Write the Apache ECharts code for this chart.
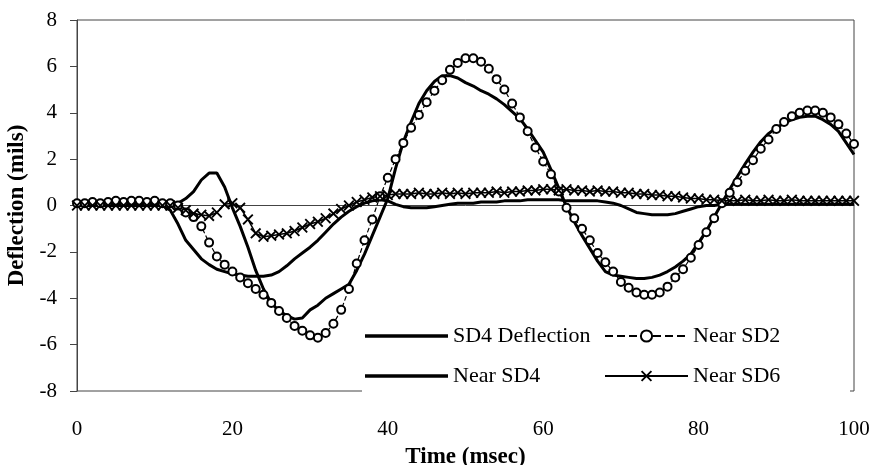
<!DOCTYPE html>
<html>
<head>
<meta charset="utf-8">
<script src="https://cdn.jsdelivr.net/npm/echarts@6/dist/echarts.min.js"></script>
<style>
  html, body { margin: 0; padding: 0; background: #fff; }
  #chart { width: 872px; height: 465px; }
</style>
</head>
<body>
<div id="chart"></div>
<script>
// time in msec, one sample per msec
var times = [];
for (var i = 0; i <= 100; i++) times.push(i);

var sd4Deflection = [
  0.05, 0.0, 0.05, 0.0, 0.05, 0.05, 0.0, 0.05, 0.0, 0.05,
  0.05, 0.05, 0.05, 0.1, 0.3, 0.6, 1.1, 1.4, 1.4, 0.8,
  -0.1, -0.9, -1.8, -2.8, -3.6, -4.2, -4.55, -4.75, -4.9, -4.85,
  -4.5, -4.3, -4.0, -3.8, -3.6, -3.4, -2.8, -2.1, -1.3, -0.5,
  0.3, 1.6, 2.75, 3.6, 4.4, 4.95, 5.35, 5.6, 5.6, 5.5,
  5.3, 5.15, 4.95, 4.8, 4.6, 4.35, 4.05, 3.75, 3.3, 2.8,
  2.3, 1.55, 0.75, -0.05, -0.7, -1.3, -1.85, -2.4, -2.85, -3.0,
  -3.05, -3.1, -3.15, -3.15, -3.1, -3.0, -2.85, -2.65, -2.4, -2.1,
  -1.6, -1.1, -0.5, 0.1, 0.7, 1.25, 1.8, 2.3, 2.75, 3.1,
  3.35, 3.55, 3.7, 3.8, 3.85, 3.85, 3.7, 3.5, 3.2, 2.7,
  2.2
];

var nearSD2 = [
  0.1, 0.1, 0.15, 0.1, 0.15, 0.2, 0.15, 0.2, 0.2, 0.15,
  0.2, 0.1, 0.1, 0.0, -0.3, -0.5, -0.9, -1.6, -2.2, -2.55,
  -2.85, -3.1, -3.35, -3.6, -3.85, -4.2, -4.55, -4.85, -5.2, -5.4,
  -5.6, -5.7, -5.5, -5.1, -4.5, -3.6, -2.5, -1.5, -0.6, 0.4,
  1.2, 2.0, 2.7, 3.35, 3.9, 4.45, 4.95, 5.4, 5.85, 6.15,
  6.35, 6.35, 6.2, 5.9, 5.45, 5.0, 4.4, 3.8, 3.2, 2.5,
  1.9, 1.35, 0.6, -0.1, -0.55, -1.0, -1.5, -2.05, -2.45, -2.85,
  -3.3, -3.55, -3.75, -3.85, -3.85, -3.75, -3.5, -3.1, -2.75, -2.25,
  -1.7, -1.15, -0.55, 0.1, 0.55, 1.0, 1.5, 1.95, 2.45, 2.85,
  3.3, 3.6, 3.85, 4.0, 4.1, 4.1, 4.0, 3.8, 3.5, 3.1,
  2.65
];

var nearSD4 = [
  0.0, 0.0, 0.0, 0.0, 0.0, 0.0, 0.0, 0.0, 0.0, 0.0,
  0.0, 0.0, -0.2, -0.8, -1.5, -1.9, -2.3, -2.55, -2.75, -2.85,
  -2.95, -3.0, -3.05, -3.05, -3.05, -3.0, -2.85, -2.6, -2.3, -2.05,
  -1.8, -1.5, -1.15, -0.8, -0.5, -0.25, -0.05, 0.1, 0.2, 0.25,
  0.2, 0.05, -0.05, -0.1, -0.1, -0.1, -0.05, 0.0, 0.05, 0.1,
  0.1, 0.1, 0.15, 0.15, 0.15, 0.2, 0.2, 0.2, 0.25, 0.25,
  0.25, 0.25, 0.25, 0.2, 0.2, 0.2, 0.2, 0.2, 0.15, 0.1,
  0.0, -0.15, -0.3, -0.35, -0.4, -0.4, -0.4, -0.35, -0.25, -0.15,
  -0.05, 0.0, 0.0, 0.05, 0.05, 0.05, 0.05, 0.05, 0.05, 0.05,
  0.05, 0.05, 0.05, 0.05, 0.05, 0.05, 0.05, 0.05, 0.05, 0.05,
  0.05
];

var nearSD6 = [
  0.0, 0.0, 0.0, 0.0, 0.0, 0.0, 0.0, 0.0, 0.0, 0.0,
  0.0, 0.0, 0.0, -0.1, -0.2, -0.35, -0.4, -0.45, -0.3, 0.05,
  0.1, -0.1, -0.6, -1.2, -1.35, -1.3, -1.25, -1.2, -1.1, -0.95,
  -0.8, -0.7, -0.55, -0.35, -0.15, 0.0, 0.15, 0.25, 0.35, 0.4,
  0.45, 0.5, 0.5, 0.5, 0.55, 0.5, 0.5, 0.55, 0.5, 0.55,
  0.5, 0.55, 0.55, 0.55, 0.6, 0.55, 0.6, 0.6, 0.65, 0.65,
  0.7, 0.7, 0.65, 0.7, 0.65, 0.65, 0.6, 0.65, 0.6, 0.6,
  0.55, 0.55, 0.5, 0.5, 0.45, 0.45, 0.4, 0.4, 0.35, 0.3,
  0.3, 0.25, 0.25, 0.2, 0.2, 0.2, 0.25, 0.2, 0.2, 0.25,
  0.2, 0.2, 0.25, 0.2, 0.2, 0.2, 0.2, 0.2, 0.2, 0.2,
  0.2
];

var yTicks = [-8, -6, -4, -2, 0, 2, 4, 6, 8];
var xTicks = [0, 20, 40, 60, 80, 100];

function pairs(vals) {
  return times.map(function (t, i) { return [t, vals[i]]; });
}

var serif = '"Liberation Serif", "Times New Roman", serif';
var crossIcon = 'path://M0,1.2L1.2,0L5,3.8L8.8,0L10,1.2L6.2,5L10,8.8L8.8,10L5,6.2L1.2,10L0,8.8L3.8,5Z';
var barIcon = 'path://M0,0H83V3.5H0Z';   // plain thick line for the legend

var legendText = { fontFamily: serif, fontSize: 22, color: '#000' };

var chart = echarts.init(document.getElementById('chart'));
var option = {
  animation: false,
  backgroundColor: '#fff',
  grid: {
    left: 77, right: 18, top: 20, bottom: 74,
    containLabel: false, outerBoundsMode: 'none',
    show: true, borderColor: '#444', borderWidth: 1, backgroundColor: 'transparent'
  },
  xAxis: {
    type: 'value',
    min: xTicks[0], max: xTicks[xTicks.length - 1], interval: 20,
    name: 'Time (msec)', nameLocation: 'middle', nameGap: 55,
    nameTextStyle: { fontFamily: serif, fontSize: 23, fontWeight: 'bold', color: '#000' },
    axisLine: { show: true, lineStyle: { color: '#444', width: 1 } },
    axisTick: { show: false },
    splitLine: { show: false },
    axisLabel: { margin: 28, fontFamily: serif, fontSize: 21, color: '#000' }
  },
  yAxis: {
    type: 'value',
    min: yTicks[0], max: yTicks[yTicks.length - 1], interval: 2,
    name: 'Deflection (mils)', nameLocation: 'middle', nameGap: 40,
    nameTextStyle: { fontFamily: serif, fontSize: 23, fontWeight: 'bold', color: '#000' },
    axisLine: { show: true, lineStyle: { color: '#444', width: 1 } },
    axisTick: { show: true, inside: false, length: 7, lineStyle: { color: '#444' } },
    splitLine: { show: false },
    axisLabel: { margin: 20, fontFamily: serif, fontSize: 21, color: '#000' }
  },
  graphic: [{
    type: 'rect', z: 50,
    shape: { x: 362, y: 318, width: 488, height: 82 },
    style: { fill: '#fff' }
  }],
  legend: [{
    z: 60, orient: 'vertical', left: 365, top: 325, padding: 0,
    itemWidth: 83, itemHeight: 14, itemGap: 18,
    textStyle: legendText,
    data: [{ name: 'SD4 Deflection', icon: barIcon }, { name: 'Near SD4', icon: barIcon }]
  }, {
    z: 60, orient: 'vertical', left: 604, top: 325, padding: 0,
    itemWidth: 83, itemHeight: 14, itemGap: 18,
    textStyle: legendText,
    data: ['Near SD2', 'Near SD6']
  }],
  series: [{
    name: 'SD4 Deflection', type: 'line', symbol: 'none',
    lineStyle: { color: '#000', width: 3 },
    itemStyle: { color: '#000' },
    data: pairs(sd4Deflection)
  }, {
    name: 'Near SD2', type: 'line', symbol: 'emptyCircle', symbolSize: 8,
    lineStyle: { color: '#000', width: 1.2, type: 'dashed' },
    itemStyle: { color: '#000', borderColor: '#000', borderWidth: 2 },
    data: pairs(nearSD2)
  }, {
    name: 'Near SD4', type: 'line', symbol: 'none',
    lineStyle: { color: '#000', width: 3 },
    itemStyle: { color: '#000' },
    data: pairs(nearSD4)
  }, {
    name: 'Near SD6', type: 'line', symbol: crossIcon, symbolSize: 11,
    lineStyle: { color: '#000', width: 1.5 },
    itemStyle: { color: '#000' },
    data: pairs(nearSD6)
  }]
};
chart.setOption(option);
</script>
</body>
</html>
